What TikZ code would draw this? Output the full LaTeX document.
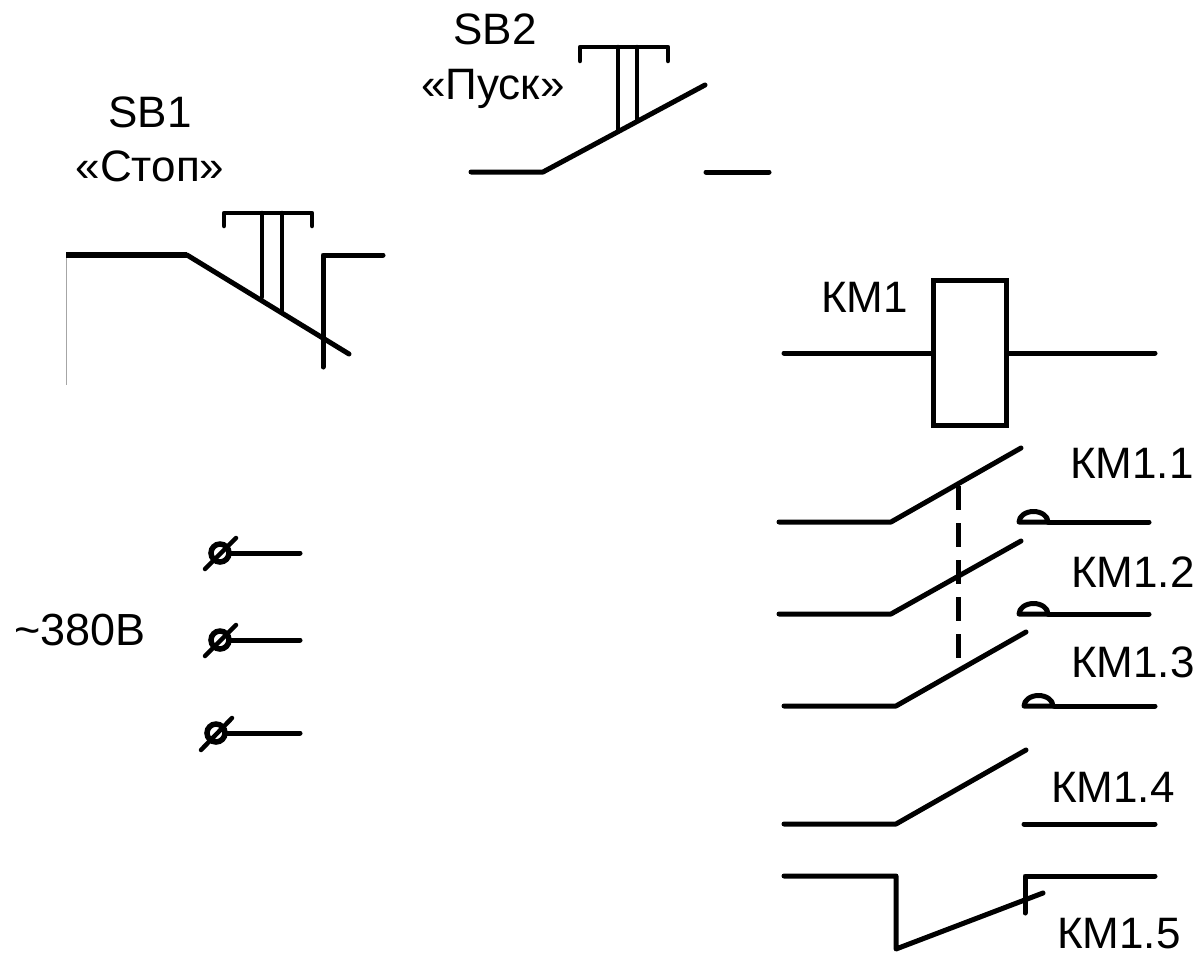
\documentclass[tikz,border=0pt]{standalone}
\usepackage{fontspec}
\setmainfont{Liberation Sans}

\begin{document}
\begin{tikzpicture}[x=1pt, y=-1pt]
        \tikzstyle{every node}=[inner sep=0pt, font=\fontsize{44}{50}\selectfont]
        \tikzstyle{wire}=[line width=5pt, line cap=round, line join=round]
        \tikzstyle{push}=[line width=4.5pt, line cap=round, line join=round]
        \tikzstyle{label}=[anchor=base west]
        \tikzstyle{title}=[anchor=base]
        \useasboundingbox (0,0) rectangle (1202,953);
        \fill [white] (0,0) rectangle (1202,953);
        \node [title] (sbone) at (150,127) {SB1};
        \node [title] (stop) at (150,181) {«Стоп»};
        \node [title] (sbtwo) at (495,44) {SB2};
        \node [title] (start) at (493,99) {«Пуск»};
        \draw [line width=1pt, black!35] (66,255) -- (66,385);
        \draw [line width=6.5pt] (66,255) -- (187,255);
        \draw [wire] (187,255) -- (349,354);
        \draw [push] (224,226) -- (224,213) -- (312,213) -- (312,226);
        \draw [push] (262,213) -- (262,297);
        \draw [push] (282,213) -- (282,311);
        \draw [wire] (323,367) -- (323,255) -- (383,255);
        \draw [wire] (471,172) -- (543,172) -- (705,85);
        \draw [wire] (706,172) -- (769,172);
        \draw [push] (580,61) -- (580,47) -- (668,47) -- (668,61);
        \draw [push] (618,47) -- (618,131);
        \draw [push] (637,47) -- (637,121);
        \node [label] (coil) at (821,312) {КМ1};
        \node [draw, line width=5pt, minimum width=73pt, minimum height=145pt] (km) at (969.5,353) {};
        \draw [wire] (784,353) -- (km.west);
        \draw [wire] (km.east) -- (1155,353);
        \node [label] (kmone) at (1070,478) {КМ1.1};
        \node [label] (kmtwo) at (1071,587) {КМ1.2};
        \node [label] (kmthree) at (1071,677) {КМ1.3};
        \node [label] (kmfour) at (1051,802) {КМ1.4};
        \node [label] (kmfive) at (1057,948) {КМ1.5};
        \draw [wire] (779,522) -- (891,522) -- (1021,448);
        \draw [wire] (1019,522) arc (180:360:14.5 and 10.5) -- cycle;
        \draw [wire] (1048,522) -- (1149,522);
        \draw [wire] (779,614) -- (891,614) -- (1021,541);
        \draw [wire] (1019,614) arc (180:360:14.5 and 10.5) -- cycle;
        \draw [wire] (1048,614) -- (1149,614);
        \draw [wire] (784,706) -- (896,706) -- (1026,632);
        \draw [wire] (1024,706) arc (180:360:14.5 and 10.5) -- cycle;
        \draw [wire] (1054,706) -- (1155,706);
        \draw [line width=5pt, dash pattern=on 24pt off 13pt] (958,486) -- (958,658);
        \draw [wire] (784,824) -- (896,824) -- (1026,750);
        \draw [wire] (1024,824) -- (1155,824);
        \draw [wire] (784,876) -- (896,876) -- (896,949) -- (1043,893);
        \draw [wire] (1025,913) -- (1025,876) -- (1155,876);
        \node [label, font=\fontsize{45}{50}\selectfont] (volt) at (14,645) {\char`\~380В};
        \draw [line width=5.5pt] (220,553) circle (9);
        \draw [push] (205,569) -- (236,538);
        \draw [wire] (231,553) -- (300,553);
        \draw [line width=5.5pt] (220,640) circle (9);
        \draw [push] (205,656) -- (236,625);
        \draw [wire] (231,640) -- (300,640);
        \draw [line width=5.5pt] (216,733) circle (9);
        \draw [push] (201,750) -- (232,718);
        \draw [wire] (227,733) -- (300,733);
    \end{tikzpicture}
\end{document}
